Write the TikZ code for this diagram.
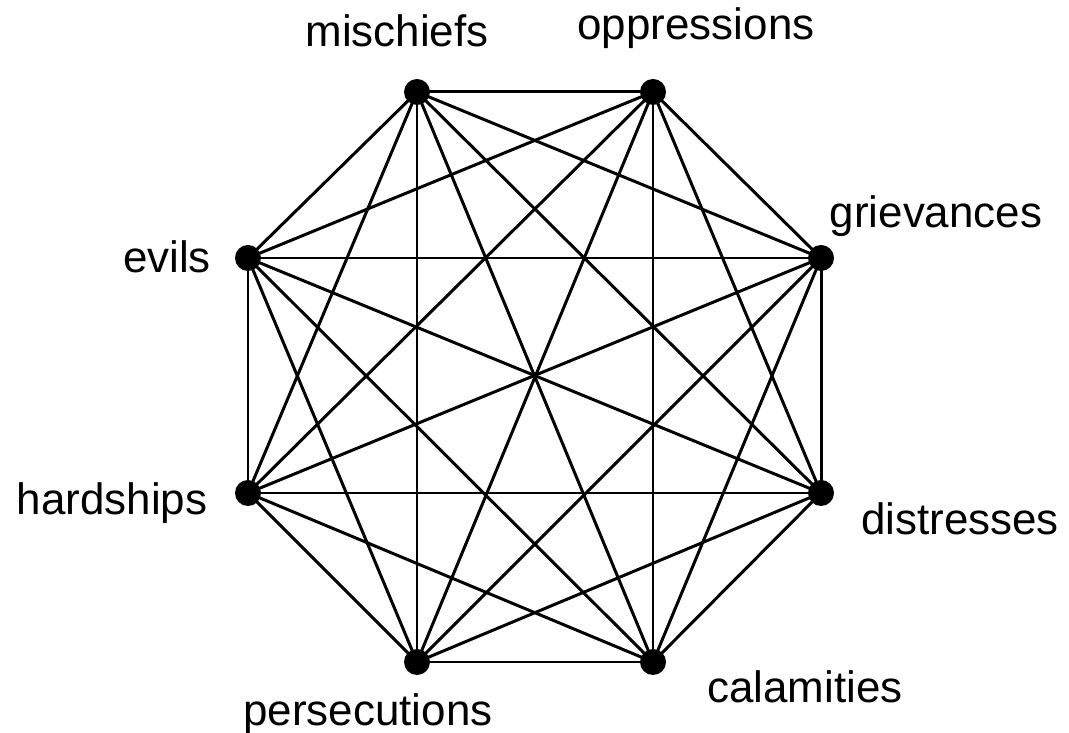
\documentclass[tikz,border=0pt]{standalone}
\usepackage{fontspec}
\setmainfont{Liberation Sans}
\usetikzlibrary{positioning}

\begin{document}
\begin{tikzpicture}[
    vert/.style={circle, fill=black, inner sep=0pt, minimum size=0.52cm},
    edge/.style={line width=1.7pt, black},
    lab/.style={anchor=base, inner sep=0pt, font=\fontsize{25}{30}\selectfont}
  ]
    \useasboundingbox (0,0) rectangle (21.38,14.66);

    % vertices of the octagon
    \coordinate (mis) at (8.34,12.82);
    \coordinate (opp) at (13.06,12.82);
    \coordinate (gri) at (16.42,9.50);
    \coordinate (dis) at (16.42,4.80);
    \coordinate (cal) at (13.06,1.42);
    \coordinate (per) at (8.34,1.42);
    \coordinate (har) at (4.96,4.80);
    \coordinate (evi) at (4.96,9.50);

    % every pair is joined
    \foreach \a/\rest in {mis/{opp,gri,dis,cal,per,har,evi},
                          opp/{gri,dis,cal,per,har,evi},
                          gri/{dis,cal,per,har,evi},
                          dis/{cal,per,har,evi},
                          cal/{per,har,evi},
                          per/{har,evi},
                          har/{evi}}
      \foreach \b in \rest
        \draw[edge] (\a) -- (\b);

    \foreach \v in {mis,opp,gri,dis,cal,per,har,evi}
      \node[vert] (\v-dot) at (\v) {};

    % labels
    \node[lab] (mis-lab) at (7.94,13.72) {mischiefs};
    \node[lab] (opp-lab) at (13.92,13.86) {oppressions};
    \node[lab] (gri-lab) at (18.72,10.10) {grievances};
    \node[lab] (dis-lab) at (19.20,3.96) {distresses};
    \node[lab] (cal-lab) at (16.10,0.60) {calamities};
    \node[lab] (per-lab) at (7.36,0.14) {persecutions};
    \node[lab] (har-lab) at (2.24,4.36) {hardships};
    \node[lab] (evi-lab) at (3.34,9.20) {evils};
  \end{tikzpicture}
\end{document}
